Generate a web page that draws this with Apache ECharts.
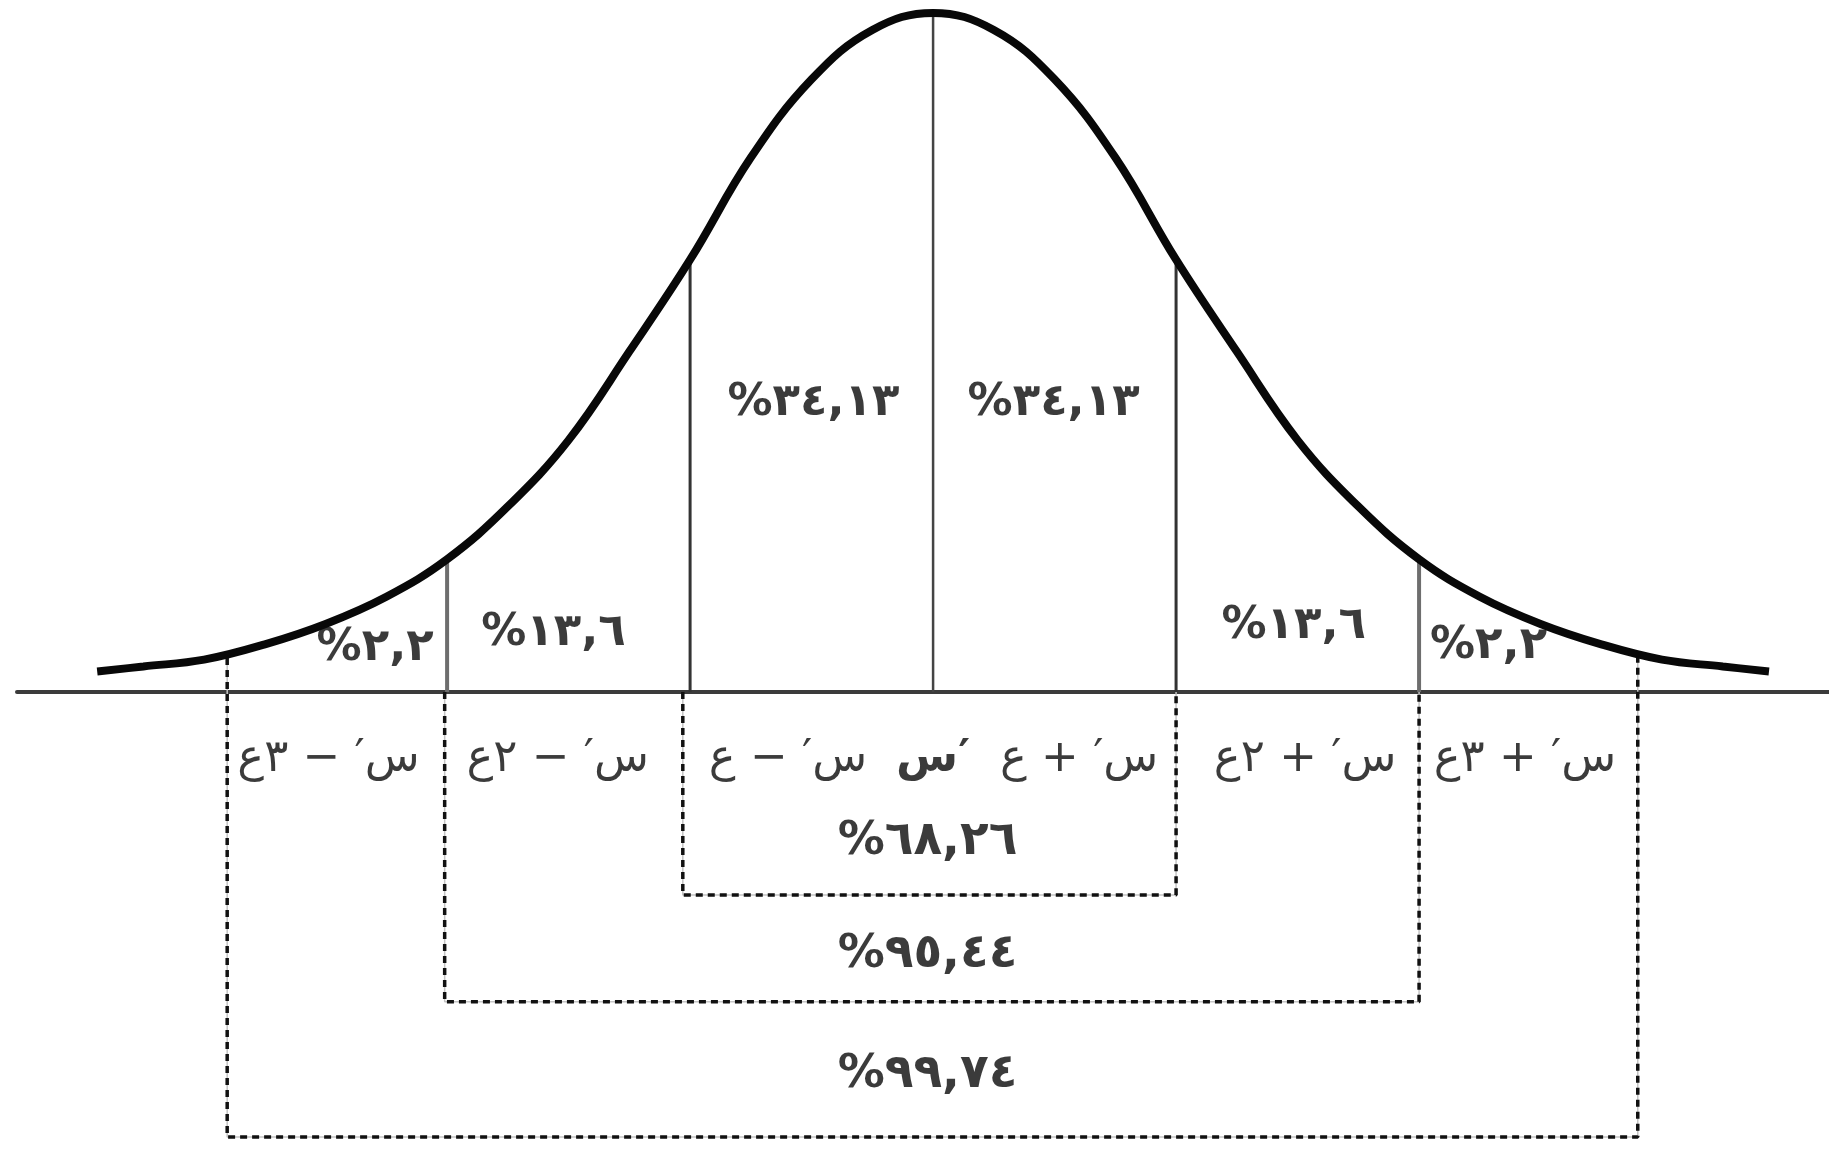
<!DOCTYPE html>
<html>
<head>
<meta charset="utf-8">
<script src="https://cdn.jsdelivr.net/npm/echarts@6/dist/echarts.min.js"></script>
<style>
  html, body { margin: 0; padding: 0; background: #fff; }
  #chart { width: 1829px; height: 1152px; }
</style>
</head>
<body>
<div id="chart"></div>
<script>
// bell curve (x in sigma units, height)
var curveZ = [-3.44, -3.25, -3.0, -2.75, -2.5, -2.25, -2.0, -1.75, -1.5, -1.25, -1.0, -0.75, -0.5, -0.25, 0,
              0.25, 0.5, 0.75, 1.0, 1.25, 1.5, 1.75, 2.0, 2.25, 2.5, 2.75, 3.0, 3.25, 3.44];
var curveY = [0.012, 0.015, 0.019, 0.028, 0.040, 0.056, 0.078, 0.109, 0.148, 0.200, 0.254, 0.314, 0.360, 0.389, 0.399,
              0.389, 0.360, 0.314, 0.254, 0.200, 0.148, 0.109, 0.078, 0.056, 0.040, 0.028, 0.019, 0.015, 0.012];

// solid dividing lines under the curve
var divZ = [-2, -1, 0, 1, 2];
var divTop = [0.078, 0.254, 0.399, 0.254, 0.078];

// share of each strip, left to right
var stripShare = [2.2, 13.6, 34.13, 34.13, 13.6, 2.2];

// dashed brackets below the axis
var bracketShare = [68.26, 95.44, 99.74];
var bracketLeft = [-1.03, -2.01, -2.905];
var bracketRight = [1.0, 2.0, 2.9];
var bracketLeftTop = [0, 0, 0.020];
var bracketRightTop = [0, 0, 0.021];

// labels under the axis
var sigmaLabels = ['س′ − ٣ع', 'س′ − ٢ع', 'س′ − ع', 'س′', 'س′ + ع', 'س′ + ٢ع', 'س′ + ٣ع'];

// layout only
var bracketBottom = [-0.1193, -0.1820, -0.2615];
var sigmaLabelZ = [-2.488, -1.545, -0.597, 0, 0.601, 1.531, 2.436];
var sigmaLabelY = -0.0395;
var stripLabelPos = [[-2.296, 0.0256], [-1.562, 0.0347], [-0.492, 0.1695], [0.496, 0.1695], [1.484, 0.0385], [2.286, 0.027]];
var bracketLabelPos = [[-0.023, -0.0879], [-0.023, -0.1543], [-0.023, -0.2251]];

var arDigits = '٠١٢٣٤٥٦٧٨٩';
function pct(v) {
  var s = String(v).replace('.', ',');
  return '%' + s.replace(/[0-9]/g, function (d) { return arDigits[+d]; });
}

var FONT = 'DejaVu Sans';
var chart = echarts.init(document.getElementById('chart'), null, { renderer: 'canvas' });

var series = [];

series.push({
  type: 'line',
  data: curveZ.map(function (z, i) { return [z, curveY[i]]; }),
  smooth: 0.4,
  symbol: 'none',
  lineStyle: { color: '#080808', width: 8 },
  z: 5
});

divZ.forEach(function (z, i) {
  var outer = Math.abs(z) === 2;
  series.push({
    type: 'line',
    data: [[z, 0], [z, divTop[i]]],
    symbol: 'none',
    lineStyle: { color: outer ? '#6e6e6e' : (z === 0 ? '#444' : '#333'), width: outer ? 4 : (z === 0 ? 2.5 : 3) },
    z: 3
  });
});

bracketShare.forEach(function (s, i) {
  var path = [
    [bracketLeft[i], bracketLeftTop[i]],
    [bracketLeft[i], bracketBottom[i]],
    [bracketRight[i], bracketBottom[i]],
    [bracketRight[i], bracketRightTop[i]]
  ];
  series.push({
    type: 'line', data: path, symbol: 'none',
    lineStyle: { color: '#c4c4c4', width: 1.5 }, z: 2
  });
  series.push({
    type: 'line', data: path, symbol: 'none',
    lineStyle: { color: '#111', width: 3.5, type: [7, 5] }, z: 3
  });
});

function textSeries(points, names, bold, size) {
  return {
    type: 'scatter',
    symbolSize: 0,
    silent: true,
    data: points.map(function (p, i) { return { value: p, name: names[i] }; }),
    label: {
      show: true,
      position: 'inside',
      formatter: '{b}',
      fontFamily: FONT,
      fontSize: size,
      fontWeight: bold ? 'bold' : 'normal',
      color: '#0a0a0a'
    },
    z: 10
  };
}

var sigPts = sigmaLabelZ.map(function (z) { return [z, sigmaLabelY]; });
series.push(textSeries(sigPts.filter(function (p, i) { return i !== 3; }),
                       sigmaLabels.filter(function (t, i) { return i !== 3; }), false, 45));
series.push(textSeries([sigPts[3]], [sigmaLabels[3]], true, 45));
series.push(textSeries(stripLabelPos, stripShare.map(pct), true, 45));
series.push(textSeries(bracketLabelPos, bracketShare.map(pct), true, 47));

var option = {
  animation: false,
  backgroundColor: '#fff',
  grid: { left: 17, right: 0, top: 0, bottom: 0 },
  xAxis: {
    type: 'value',
    min: -3.77,
    max: 3.687,
    axisLine: { show: true, onZero: true, lineStyle: { color: '#3b3b3b', width: 4 } },
    axisTick: { show: false },
    axisLabel: { show: false },
    splitLine: { show: false }
  },
  yAxis: {
    type: 'value',
    min: -0.2703,
    max: 0.4066,
    axisLine: { show: false },
    axisTick: { show: false },
    axisLabel: { show: false },
    splitLine: { show: false }
  },
  series: series
};

chart.setOption(option);
window.addEventListener('resize', chart.resize);
</script>
</body>
</html>
